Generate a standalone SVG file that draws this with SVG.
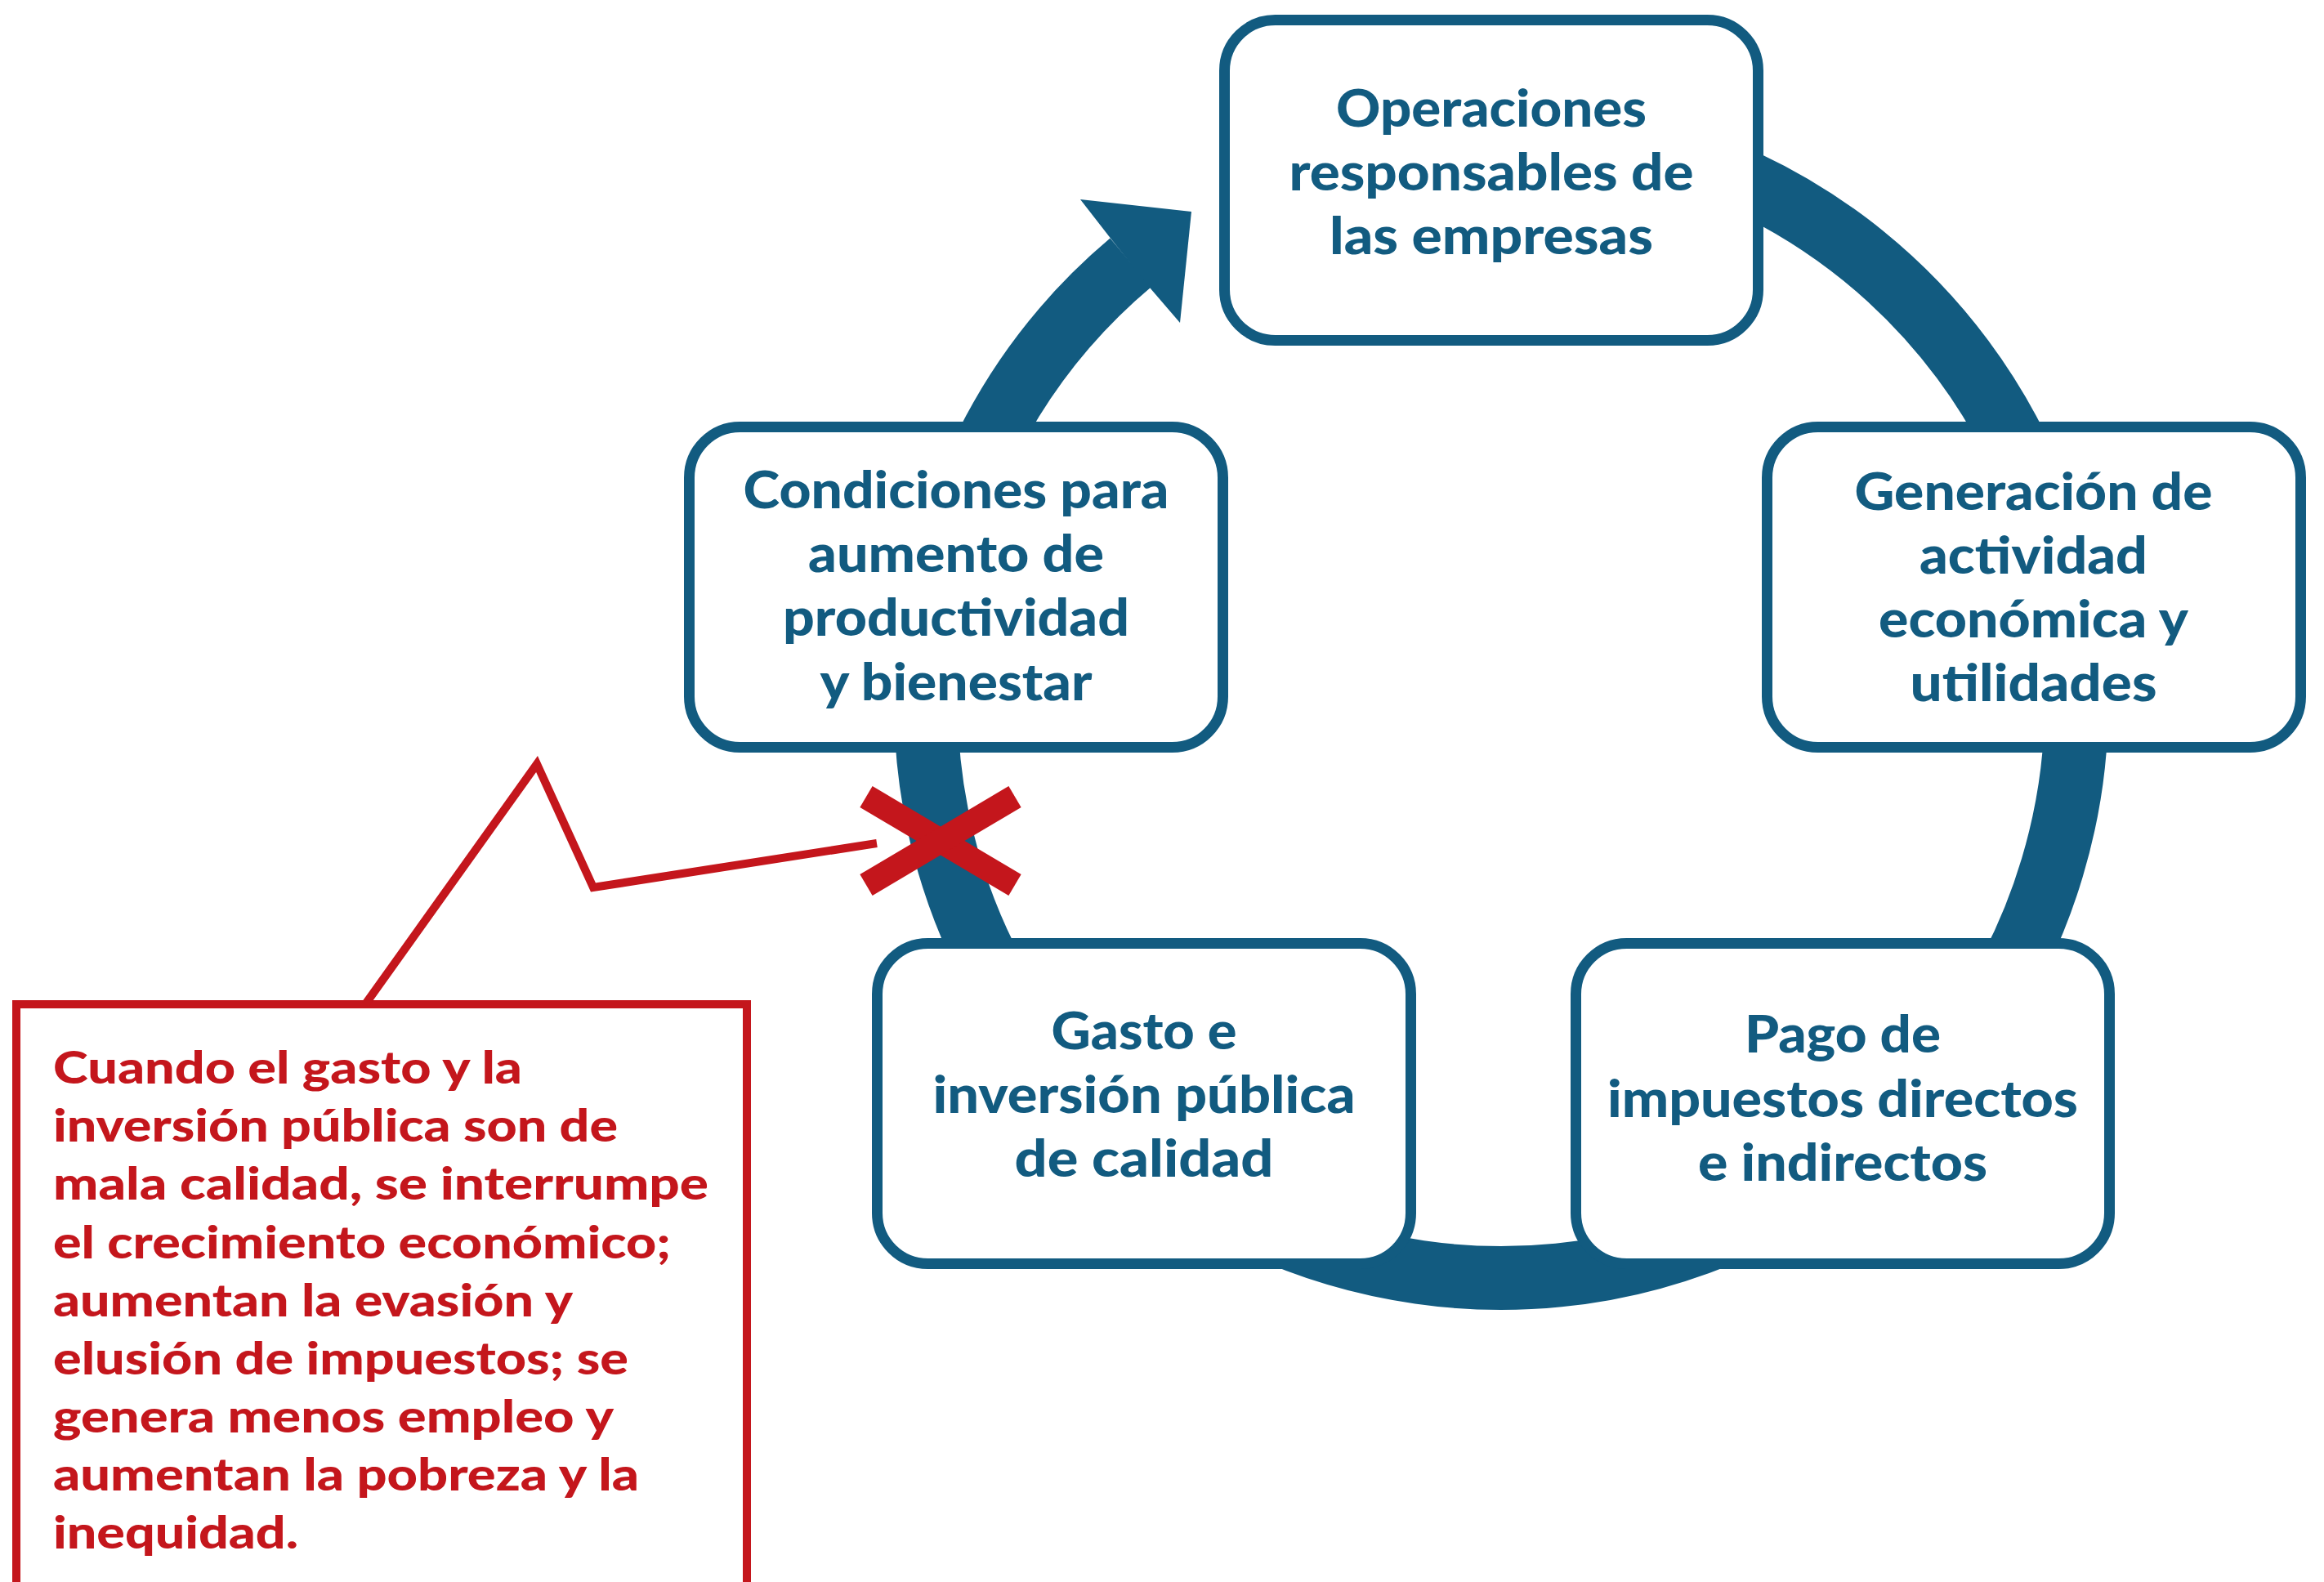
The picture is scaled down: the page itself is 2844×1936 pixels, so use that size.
<svg xmlns="http://www.w3.org/2000/svg" width="2844" height="1936" viewBox="0 0 2844 1936">
<style>
.box{fill:#ffffff;stroke:#125b80;stroke-width:13}
.t{font-family:Lato,"Open Sans","DejaVu Sans",sans-serif;font-weight:900;font-size:62px;fill:#125b80;text-anchor:middle}
.r{font-family:Lato,"Open Sans","DejaVu Sans",sans-serif;font-weight:900;font-size:55px;fill:#c4161c}
.red{fill:none;stroke:#c4161c}
</style>
<rect width="2844" height="1936" fill="#ffffff"/>
<g id="connectors">
<path d="M 1837 156 A 704 704 0 1 1 1383.6 321.4" fill="none" stroke="#125b80" stroke-width="78"/>
<polygon points="1322,244 1458,259 1444,395 1407,352 1357,289" fill="#125b80"/>
</g>
<g id="node-operaciones">
<rect class="box" x="1498.5" y="24.5" width="653" height="392" rx="62"/>
<text class="t" x="1825" y="155" textLength="380" lengthAdjust="spacingAndGlyphs">Operaciones</text>
<text class="t" x="1825" y="233" textLength="495" lengthAdjust="spacingAndGlyphs">responsables de</text>
<text class="t" x="1825" y="311" textLength="396" lengthAdjust="spacingAndGlyphs">las empresas</text>
</g>
<g id="node-generacion">
<rect class="box" x="2162.5" y="522.5" width="653" height="392" rx="62"/>
<text class="t" x="2488.5" y="624" textLength="438" lengthAdjust="spacingAndGlyphs">Generación de</text>
<text class="t" x="2488.5" y="702" textLength="279" lengthAdjust="spacingAndGlyphs">actividad</text>
<text class="t" x="2488.5" y="780" textLength="379" lengthAdjust="spacingAndGlyphs">económica y</text>
<text class="t" x="2488.5" y="858" textLength="302" lengthAdjust="spacingAndGlyphs">utilidades</text>
</g>
<g id="node-pago">
<rect class="box" x="1928.5" y="1154.5" width="653" height="392" rx="62"/>
<text class="t" x="2255" y="1288" textLength="240" lengthAdjust="spacingAndGlyphs">Pago de</text>
<text class="t" x="2255" y="1367" textLength="576" lengthAdjust="spacingAndGlyphs">impuestos directos</text>
<text class="t" x="2255" y="1445" textLength="354" lengthAdjust="spacingAndGlyphs">e indirectos</text>
</g>
<g id="node-gasto">
<rect class="box" x="1073.5" y="1154.5" width="653" height="392" rx="62"/>
<text class="t" x="1400" y="1284" textLength="227" lengthAdjust="spacingAndGlyphs">Gasto e</text>
<text class="t" x="1400" y="1362" textLength="517" lengthAdjust="spacingAndGlyphs">inversión pública</text>
<text class="t" x="1400" y="1440" textLength="317" lengthAdjust="spacingAndGlyphs">de calidad</text>
</g>
<g id="node-condiciones">
<rect class="box" x="843.5" y="522.5" width="653" height="392" rx="62"/>
<text class="t" x="1170" y="622" textLength="521" lengthAdjust="spacingAndGlyphs">Condiciones para</text>
<text class="t" x="1170" y="700" textLength="362" lengthAdjust="spacingAndGlyphs">aumento de</text>
<text class="t" x="1170" y="778" textLength="424" lengthAdjust="spacingAndGlyphs">productividad</text>
<text class="t" x="1170" y="857" textLength="333" lengthAdjust="spacingAndGlyphs">y bienestar</text>
</g>
<g id="callout">
<rect class="red" x="20" y="1229" width="894" height="760" stroke-width="10" fill="#ffffff"/>
<polyline class="red" points="447,1229 657,935 726,1086 1073,1032" stroke-width="10" stroke-miterlimit="10"/>
<text class="r" x="65" y="1326" textLength="574" lengthAdjust="spacingAndGlyphs">Cuando el gasto y la</text>
<text class="r" x="65" y="1397" textLength="691" lengthAdjust="spacingAndGlyphs">inversión pública son de</text>
<text class="r" x="65" y="1468" textLength="802" lengthAdjust="spacingAndGlyphs">mala calidad, se interrumpe</text>
<text class="r" x="65" y="1540" textLength="756" lengthAdjust="spacingAndGlyphs">el crecimiento económico;</text>
<text class="r" x="65" y="1611" textLength="636" lengthAdjust="spacingAndGlyphs">aumentan la evasión y</text>
<text class="r" x="65" y="1682" textLength="704" lengthAdjust="spacingAndGlyphs">elusión de impuestos; se</text>
<text class="r" x="65" y="1753" textLength="686" lengthAdjust="spacingAndGlyphs">genera menos empleo y</text>
<text class="r" x="65" y="1824" textLength="717" lengthAdjust="spacingAndGlyphs">aumentan la pobreza y la</text>
<text class="r" x="65" y="1895" textLength="300" lengthAdjust="spacingAndGlyphs">inequidad.</text>
</g>
<g id="cross">
<line x1="1060" y1="975" x2="1242" y2="1083" stroke="#c4161c" stroke-width="30"/>
<line x1="1242" y1="975" x2="1060" y2="1083" stroke="#c4161c" stroke-width="30"/>
</g>
</svg>
